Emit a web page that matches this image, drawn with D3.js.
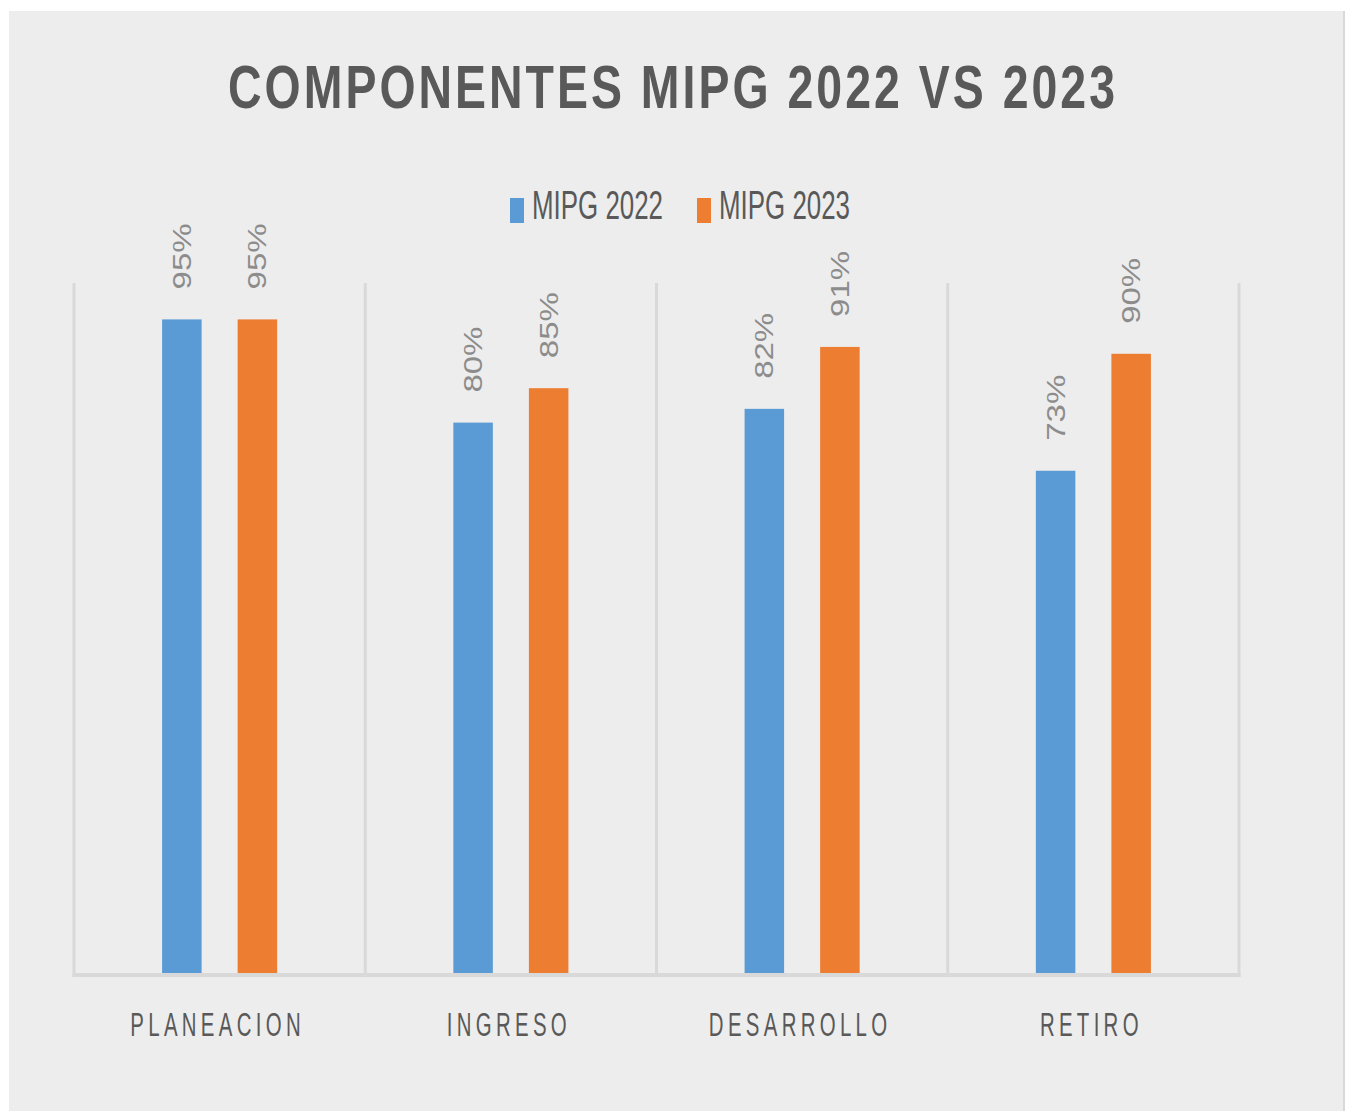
<!DOCTYPE html>
<html>
<head>
	<meta charset="utf-8">
	<title>componentes mipg</title>
	<script src="https://d3js.org/d3.v7.min.js"></script>
	<style>
		body { margin: 0; background: #fff; }
		svg text { font-family: 'Liberation Sans', Arial, sans-serif; }
	</style>
</head>
<body>
	<script>
		var categories = ['PLANEACION', 'INGRESO', 'DESARROLLO', 'RETIRO'];
		var series = ['MIPG 2022', 'MIPG 2023'];
		var values2022 = [0.95, 0.80, 0.82, 0.73];
		var values2023 = [0.95, 0.85, 0.91, 0.90];
		var colors = ['#5b9bd5', '#ed7d31'];

		var w = 1345, h = 1111;
		var plotLeft = 74, plotRight = 1239, plotTop = 285, base = 973;

		var svg = d3.select('body').append('svg')
			.attr('width', w)
			.attr('height', h);

		// panel
		svg.append('rect')
			.attr('x', 9).attr('y', 11)
			.attr('width', 1334).attr('height', 1100)
			.attr('fill', '#ededed');
		svg.append('line')
			.attr('x1', 1344).attr('x2', 1344)
			.attr('y1', 11).attr('y2', h)
			.attr('stroke', '#d9d9d9').attr('stroke-width', 2);

		var x0 = d3.scaleBand().domain(categories).range([plotLeft, plotRight]);
		var x1 = d3.scaleBand().domain(series)
			.range([0, x0.bandwidth()])
			.paddingInner(0.477).paddingOuter(1.166);
		var y = d3.scaleLinear().domain([0, 1]).range([base, plotTop]);

		// category separators
		var edges = categories.map(function (c) { return x0(c); }).concat([plotRight]);
		svg.append('g').selectAll('line')
			.data(edges)
			.enter().append('line')
			.attr('x1', function (d) { return d; })
			.attr('x2', function (d) { return d; })
			.attr('y1', 283).attr('y2', base + 4)
			.attr('stroke', '#d9d9d9').attr('stroke-width', 3);

		svg.append('line')
			.attr('x1', plotLeft - 1.5).attr('x2', plotRight + 1.5)
			.attr('y1', base + 2).attr('y2', base + 2)
			.attr('stroke', '#d9d9d9').attr('stroke-width', 4);

		var rows = [];
		categories.forEach(function (c, i) {
			rows.push({ cat: c, s: 0, v: values2022[i] });
			rows.push({ cat: c, s: 1, v: values2023[i] });
		});

		svg.append('g').selectAll('rect')
			.data(rows)
			.enter().append('rect')
			.attr('x', function (d) { return x0(d.cat) + x1(series[d.s]); })
			.attr('y', function (d) { return y(d.v); })
			.attr('width', x1.bandwidth())
			.attr('height', function (d) { return base - y(d.v); })
			.attr('fill', function (d) { return colors[d.s]; });

		// value labels, rotated
		svg.append('g').selectAll('text')
			.data(rows)
			.enter().append('text')
			.attr('transform', function (d) {
				var cx = x0(d.cat) + x1(series[d.s]) + x1.bandwidth() / 2;
				return 'translate(' + cx + ',' + (y(d.v) - 30) + ') rotate(-90)';
			})
			.attr('dominant-baseline', 'central')
			.attr('font-size', 25)
			.attr('textLength', 66)
			.attr('lengthAdjust', 'spacingAndGlyphs')
			.attr('fill', '#8c8c8c')
			.text(function (d) { return Math.round(d.v * 100) + '%'; });

		// category labels
		svg.append('g').selectAll('text')
			.data(categories)
			.enter().append('text')
			.attr('transform', function (d) {
				return 'translate(' + (x0(d) + x0.bandwidth() / 2 - 2) + ',1036) scale(0.6,1)';
			})
			.attr('text-anchor', 'middle')
			.attr('font-size', 34)
			.attr('letter-spacing', 7.2)
			.attr('fill', '#595959')
			.text(function (d) { return d; });

		// title
		svg.append('text')
			.attr('x', 228).attr('y', 108)
			.attr('font-size', 62)
			.attr('font-weight', 'bold')
			.attr('letter-spacing', 4)
			.attr('textLength', 890)
			.attr('lengthAdjust', 'spacingAndGlyphs')
			.attr('fill', '#595959')
			.text('COMPONENTES MIPG 2022 VS 2023');

		// legend
		var legX = [510, 697];
		var leg = svg.append('g').selectAll('g')
			.data(series)
			.enter().append('g')
			.attr('transform', function (d, i) { return 'translate(' + legX[i] + ',0)'; });
		leg.append('rect')
			.attr('x', 0).attr('y', 198)
			.attr('width', 14).attr('height', 25)
			.attr('fill', function (d, i) { return colors[i]; });
		leg.append('text')
			.attr('x', 22).attr('y', 219)
			.attr('font-size', 40)
			.attr('textLength', 131)
			.attr('lengthAdjust', 'spacingAndGlyphs')
			.attr('fill', '#595959')
			.text(function (d) { return d; });
	</script>
</body>
</html>
